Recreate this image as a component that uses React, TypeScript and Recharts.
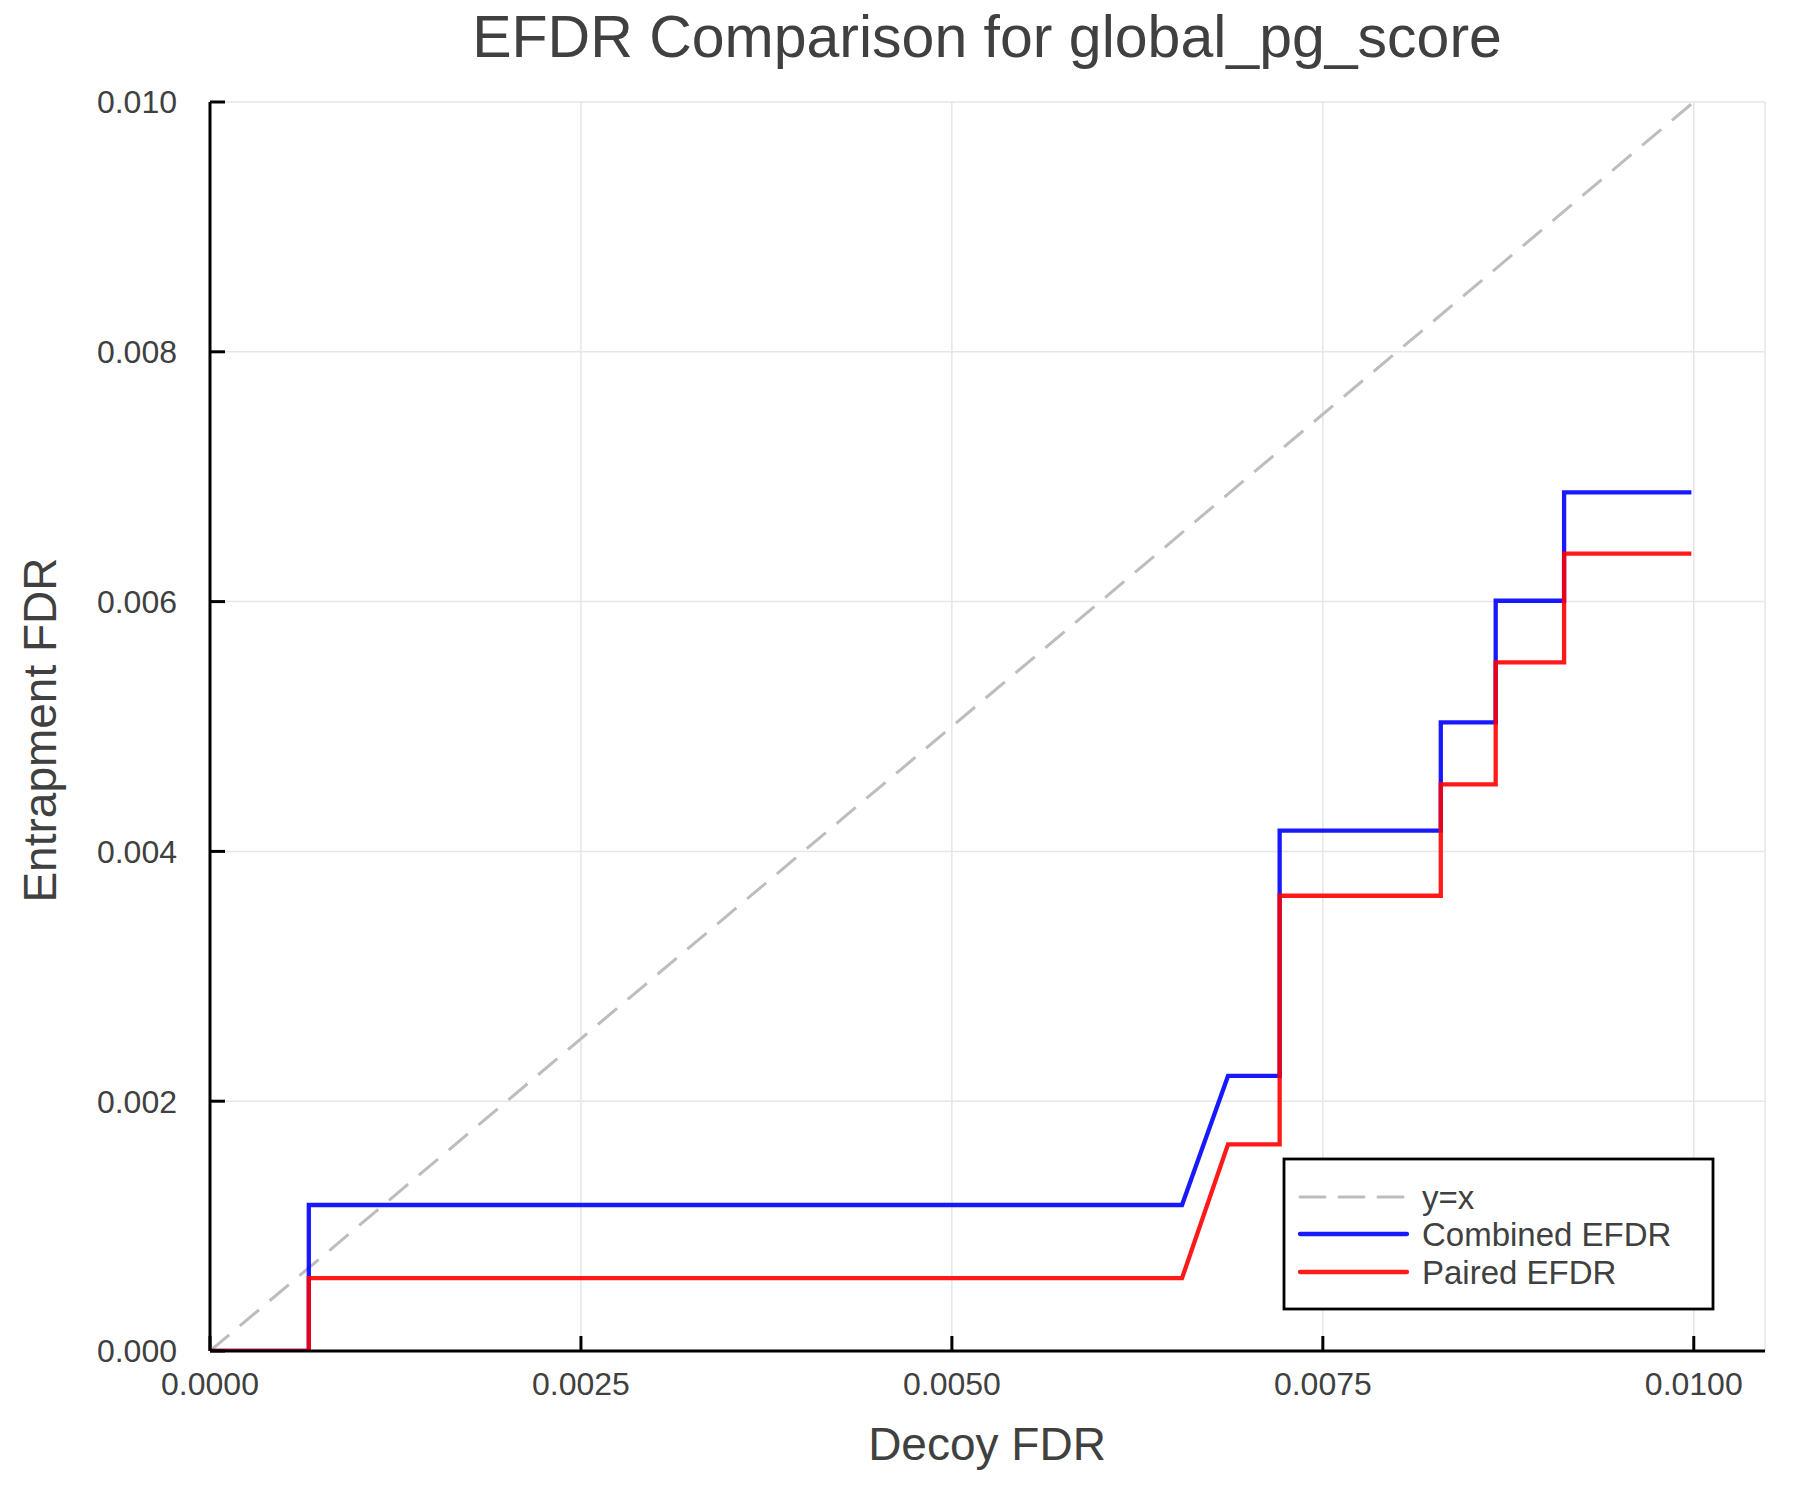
import React from 'react';
import { LineChart, Line, XAxis, YAxis, CartesianGrid, Customized } from 'recharts';

const combinedX = [0, 0.000666, 0.000666, 0.006551, 0.006861, 0.007209, 0.007209, 0.008295, 0.008295, 0.008665, 0.008665, 0.009126, 0.009126, 0.009984];
const combinedY = [0, 0, 0.001169, 0.001169, 0.002202, 0.002202, 0.004166, 0.004166, 0.005033, 0.005033, 0.006007, 0.006007, 0.006875, 0.006875];
const pairedX = [0, 0.000666, 0.000666, 0.006551, 0.006861, 0.007209, 0.007209, 0.008295, 0.008295, 0.008665, 0.008665, 0.009126, 0.009126, 0.009984];
const pairedY = [0, 0, 0.000583, 0.000583, 0.001655, 0.001655, 0.003645, 0.003645, 0.004537, 0.004537, 0.005514, 0.005514, 0.006384, 0.006384];
const diagX = [0, 0.01];
const diagY = [0, 0.01];
const xTicks = [0, 0.0025, 0.005, 0.0075, 0.01];
const yTicks = [0, 0.002, 0.004, 0.006, 0.008, 0.01];
const seriesNames = ['y=x', 'Combined EFDR', 'Paired EFDR'];

const combinedData = combinedX.map((x, i) => ({ x, y: combinedY[i] }));
const pairedData = pairedX.map((x, i) => ({ x, y: pairedY[i] }));
const diagData = diagX.map((x, i) => ({ x, y: diagY[i] }));

const FONT = '"Liberation Sans", Arial, Helvetica, sans-serif';
const TXT = '#404040';
const BLUE = '#0000ff';
const RED = '#ff0000';
const GRAY = '#bdbdbd';
const LW = 4.3;

const Overlay = () => {
  const rows = [
    { name: seriesNames[0], color: GRAY, dash: '25 14', op: 1 },
    { name: seriesNames[1], color: BLUE, dash: undefined, op: 0.9 },
    { name: seriesNames[2], color: RED, dash: undefined, op: 0.9 },
  ];
  const rowY = [1197, 1234, 1272];
  return (
    <g fontFamily={FONT}>
      <text x={987} y={57} textAnchor="middle" fontSize={59} fill={TXT}>
        EFDR Comparison for global_pg_score
      </text>
      <text x={987} y={1444} textAnchor="middle" dominantBaseline="central" fontSize={46} fill={TXT}>
        Decoy FDR
      </text>
      <text
        x={40}
        y={730}
        textAnchor="middle"
        dominantBaseline="central"
        fontSize={46}
        fill={TXT}
        transform="rotate(-90 40 730)"
      >
        Entrapment FDR
      </text>
      <rect x={1284} y={1159} width={429} height={150} fill="#ffffff" stroke="#000" strokeWidth={2.8} />
      {rows.map((r, i) => (
        <g key={r.name}>
          <line
            x1={1300}
            x2={1407}
            y1={rowY[i]}
            y2={rowY[i]}
            stroke={r.color}
            strokeOpacity={r.op}
            strokeWidth={i === 0 ? 3 : LW}
            strokeDasharray={r.dash}
            strokeLinecap="round"
          />
          <text x={1422} y={rowY[i]} dominantBaseline="central" fontSize={33} fill={TXT}>
            {r.name}
          </text>
        </g>
      ))}
    </g>
  );
};

export default function App() {
  return (
    <div style={{ position: 'absolute', left: 0, top: 0, background: '#fff' }}>
      <LineChart
        width={1800}
        height={1500}
        margin={{ top: 102, right: 35, bottom: 0, left: 0 }}
        style={{ fontFamily: FONT }}
      >
        <CartesianGrid stroke="#e6e6e6" strokeWidth={1.5} />
        <XAxis
          type="number"
          dataKey="x"
          domain={[0, 0.01048]}
          ticks={xTicks}
          allowDataOverflow
          tickFormatter={(v: number) => v.toFixed(4)}
          height={149}
          tickSize={-15}
          tickMargin={36}
          axisLine={{ stroke: '#000', strokeWidth: 3 }}
          tickLine={{ stroke: '#000', strokeWidth: 3 }}
          tick={{ fontSize: 32, fill: TXT, fontFamily: FONT }}
        />
        <YAxis
          type="number"
          dataKey="y"
          domain={[0, 0.01]}
          ticks={yTicks}
          allowDataOverflow
          tickFormatter={(v: number) => v.toFixed(3)}
          width={210}
          tickSize={-15}
          tickMargin={48}
          axisLine={{ stroke: '#000', strokeWidth: 3 }}
          tickLine={{ stroke: '#000', strokeWidth: 3 }}
          tick={{ fontSize: 32, fill: TXT, fontFamily: FONT }}
        />
        <Line
          data={diagData}
          dataKey="y"
          name={seriesNames[0]}
          type="linear"
          stroke={GRAY}
          strokeWidth={3}
          strokeDasharray="25 14"
          dot={false}
          activeDot={false}
          isAnimationActive={false}
        />
        <Line
          data={combinedData}
          dataKey="y"
          name={seriesNames[1]}
          type="linear"
          stroke={BLUE}
          strokeOpacity={0.9}
          strokeWidth={LW}
          strokeLinejoin="miter"
          dot={false}
          activeDot={false}
          isAnimationActive={false}
        />
        <Line
          data={pairedData}
          dataKey="y"
          name={seriesNames[2]}
          type="linear"
          stroke={RED}
          strokeOpacity={0.9}
          strokeWidth={LW}
          strokeLinejoin="miter"
          dot={false}
          activeDot={false}
          isAnimationActive={false}
        />
        <Customized component={<Overlay />} />
      </LineChart>
    </div>
  );
}
